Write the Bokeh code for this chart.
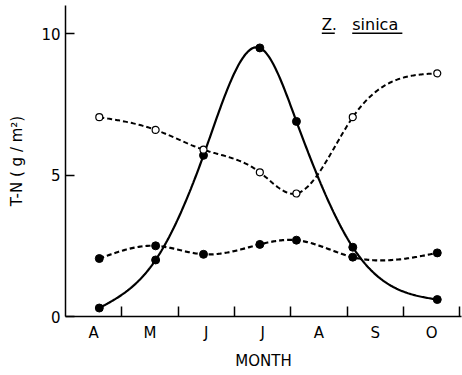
import numpy as np
from bokeh.plotting import figure
from bokeh.models import Range1d, FixedTicker, Label
from bokeh.embed import file_html
from bokeh.resources import INLINE

# ---- data ----
month_letters = ["A", "M", "J", "J", "A", "S", "O"]
month_centers = [0.5, 1.5, 2.5, 3.5, 4.5, 5.5, 6.5]
month_bounds = [1, 2, 3, 4, 5, 6, 7]
sample_x = [0.6, 1.6, 2.45, 3.45, 4.1, 5.1, 6.6]          # months since 1 April
tn_solid = [0.3, 2.0, 5.7, 9.5, 6.9, 2.45, 0.6]           # filled, solid line
tn_dashed_filled = [2.05, 2.5, 2.2, 2.55, 2.7, 2.1, 2.25] # filled, dashed line
tn_open = [7.05, 6.6, 5.9, 5.1, 4.35, 7.05, 8.6]          # open, dashed line
y_ticks = [0, 5, 10]

FONT = "DejaVu Sans"
INK = "black"


def smooth(xs, ys, num=300):
    """Natural cubic spline through the points, for drawing a smooth line."""
    x = np.asarray(xs, float)
    y = np.asarray(ys, float)
    n = len(x)
    h = np.diff(x)
    A = np.zeros((n, n))
    b = np.zeros(n)
    A[0, 0] = 1
    A[-1, -1] = 1
    for i in range(1, n - 1):
        A[i, i - 1] = h[i - 1]
        A[i, i] = 2 * (h[i - 1] + h[i])
        A[i, i + 1] = h[i]
        b[i] = 6 * ((y[i + 1] - y[i]) / h[i] - (y[i] - y[i - 1]) / h[i - 1])
    M = np.linalg.solve(A, b)
    xx = np.linspace(x[0], x[-1], num)
    idx = np.clip(np.searchsorted(x, xx) - 1, 0, n - 2)
    x0 = x[idx]
    x1 = x[idx + 1]
    hh = x1 - x0
    t0 = x1 - xx
    t1 = xx - x0
    yy = (M[idx] * t0 ** 3 / (6 * hh) + M[idx + 1] * t1 ** 3 / (6 * hh)
          + (y[idx] / hh - M[idx] * hh / 6) * t0
          + (y[idx + 1] / hh - M[idx + 1] * hh / 6) * t1)
    return xx, yy


p = figure(width=462, height=375, output_backend="svg", toolbar_location=None,
           x_range=Range1d(0, 7.03), y_range=Range1d(0, 11.0),
           min_border_left=65, min_border_right=1, min_border_top=5,
           min_border_bottom=59)
p.outline_line_color = None
p.grid.visible = False
p.background_fill_color = "white"
p.border_fill_color = "white"

# lines
sx, sy = smooth(sample_x, tn_solid)
p.line(sx, sy, line_color=INK, line_width=2.2)
dx, dy = smooth(sample_x, tn_dashed_filled)
p.line(dx, dy, line_color=INK, line_width=2.2, line_dash="5 3")
ox, oy = smooth(sample_x, tn_open)
p.line(ox, oy, line_color=INK, line_width=2.0, line_dash="5 3")

# markers
p.scatter(sample_x, tn_solid, size=8, marker="circle", fill_color=INK, line_color=INK)
p.scatter(sample_x, tn_dashed_filled, size=8, marker="circle", fill_color=INK, line_color=INK)
p.scatter(sample_x, tn_open, size=7, marker="circle", fill_color="white", line_color=INK, line_width=1.2)

# x axis
xa = p.xaxis[0]
xa.ticker = FixedTicker(ticks=month_centers, minor_ticks=month_bounds)
xa.major_label_overrides = {c: m for c, m in zip(month_centers, month_letters)}
xa.major_tick_in = 0
xa.major_tick_out = 0
xa.minor_tick_in = 10
xa.minor_tick_out = 0
xa.minor_tick_line_width = 1.5
xa.minor_tick_line_color = INK
xa.axis_line_width = 1.5
xa.axis_line_color = INK
xa.major_label_text_font = FONT
xa.major_label_text_font_size = "15px"
xa.major_label_text_color = INK
xa.major_label_standoff = 7
xa.axis_label = "MONTH"
xa.axis_label_text_font = FONT
xa.axis_label_text_font_style = "normal"
xa.axis_label_text_font_size = "15px"
xa.axis_label_text_color = INK
xa.axis_label_standoff = 7

# y axis
ya = p.yaxis[0]
ya.ticker = FixedTicker(ticks=y_ticks, minor_ticks=[])
ya.major_tick_in = 9
ya.major_tick_out = 0
ya.major_tick_line_width = 1.5
ya.major_tick_line_color = INK
ya.axis_line_width = 1.5
ya.axis_line_color = INK
ya.major_label_text_font = FONT
ya.major_label_text_font_size = "15px"
ya.major_label_text_color = INK
ya.major_label_standoff = 5
ya.axis_label = "T-N ( g / m²)"
ya.axis_label_text_font = FONT
ya.axis_label_text_font_style = "normal"
ya.axis_label_text_font_size = "15px"
ya.axis_label_text_color = INK
ya.axis_label_standoff = 12

# species label, underlined
p.add_layout(Label(x=4.55, y=10.32, text="Z.", text_font=FONT, text_font_size="15px",
                   text_color=INK, text_baseline="alphabetic"))
p.add_layout(Label(x=5.09, y=10.32, text="sinica", text_font=FONT, text_font_size="16px",
                   text_color=INK, text_baseline="alphabetic"))
p.segment(x0=[4.55, 5.09], y0=[10.02, 10.02], x1=[4.78, 5.98], y1=[10.02, 10.02],
          line_color=INK, line_width=1.5)

open("out.html", "w").write(file_html(p, INLINE))
